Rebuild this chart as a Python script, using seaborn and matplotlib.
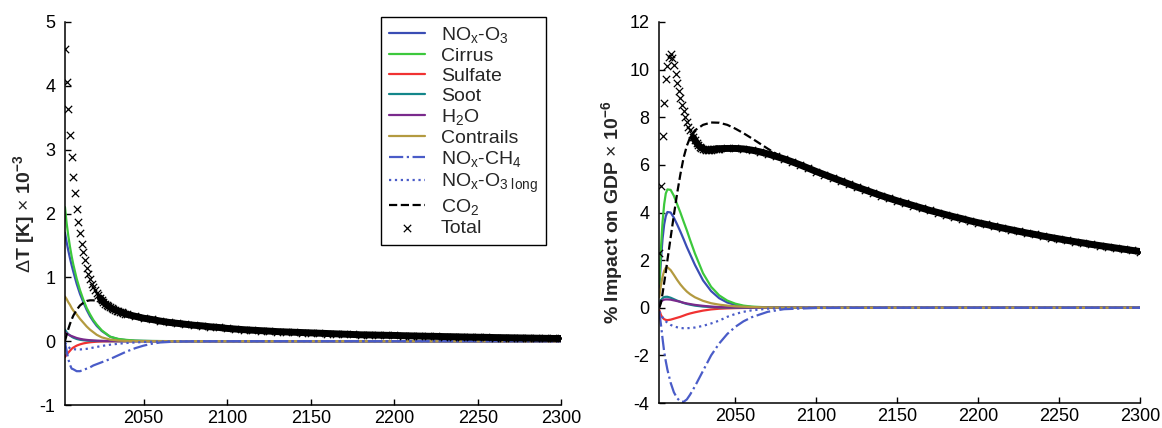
import matplotlib
matplotlib.use("Agg")
import matplotlib.pyplot as plt
import pandas as pd
import seaborn as sns

# ---- data ----
comp_years = [2003, 2004, 2005, 2006, 2007, 2008, 2010, 2012, 2014, 2016, 2018, 2020, 2022,
              2025, 2030, 2035, 2040, 2045, 2050, 2055, 2060, 2070, 2080, 2100, 2150, 2200, 2300]

# left panel: temperature change (K x 1e-3)
dT_nox_o3 = [1.70, 1.55, 1.42, 1.30, 1.19, 1.09, 0.90, 0.74, 0.61, 0.49, 0.39, 0.31, 0.24,
             0.16, 0.07, 0.03, 0.015, 0.007, 0.004, 0.002, 0.001, 0, 0, 0, 0, 0, 0]
dT_cirrus = [2.10, 1.85, 1.65, 1.48, 1.33, 1.20, 0.98, 0.80, 0.65, 0.52, 0.42, 0.33, 0.26,
             0.17, 0.07, 0.035, 0.02, 0.01, 0.006, 0.003, 0.002, 0, 0, 0, 0, 0, 0]
dT_sulfate = [-0.25, -0.21, -0.18, -0.15, -0.12, -0.10, -0.07, -0.05, -0.035, -0.025, -0.017,
              -0.012, -0.008, -0.005, -0.002, -0.001, 0, 0, 0, 0, 0, 0, 0, 0, 0, 0, 0]
dT_soot = [0.18, 0.14, 0.11, 0.09, 0.07, 0.055, 0.035, 0.022, 0.015, 0.01, 0.007, 0.005, 0.003,
           0.002, 0.001, 0, 0, 0, 0, 0, 0, 0, 0, 0, 0, 0, 0]
dT_h2o = [0.14, 0.12, 0.105, 0.09, 0.08, 0.07, 0.05, 0.037, 0.027, 0.02, 0.015, 0.011, 0.008,
          0.005, 0.002, 0.001, 0, 0, 0, 0, 0, 0, 0, 0, 0, 0, 0]
dT_contrails = [0.70, 0.66, 0.61, 0.57, 0.52, 0.48, 0.42, 0.35, 0.29, 0.23, 0.18, 0.14, 0.10,
                0.06, 0.025, 0.01, 0.004, 0.002, 0, 0, 0, 0, 0, 0, 0, 0, 0]
dT_nox_ch4 = [-0.02, -0.15, -0.28, -0.37, -0.43, -0.44, -0.47, -0.47, -0.45, -0.43, -0.41, -0.38,
              -0.36, -0.33, -0.28, -0.22, -0.16, -0.11, -0.07, -0.04, -0.02, -0.005, -0.002, 0, 0, 0, 0]
dT_nox_o3_long = [-0.02, -0.06, -0.09, -0.11, -0.12, -0.125, -0.13, -0.13, -0.125, -0.12, -0.11,
                  -0.10, -0.09, -0.075, -0.055, -0.04, -0.028, -0.02, -0.013, -0.009, -0.006,
                  -0.003, -0.001, 0, 0, 0, 0]
dT_co2 = [0.0, 0.10, 0.19, 0.27, 0.34, 0.40, 0.49, 0.56, 0.60, 0.63, 0.64, 0.64, 0.63,
          0.60, 0.52, 0.46, 0.41, 0.38, 0.35, 0.33, 0.31, 0.275, 0.245, 0.20, 0.13, 0.09, 0.042]

# right panel: impact on GDP (% x 1e-6)
gdp_nox_o3 = [0.85, 2.0, 2.9, 3.5, 3.85, 4.02, 4.0, 3.78, 3.5, 3.2, 2.88, 2.55, 2.25,
              1.8, 1.15, 0.70, 0.40, 0.22, 0.12, 0.06, 0.03, 0.01, 0.002, 0, 0, 0, 0]
gdp_cirrus = [1.0, 2.5, 3.6, 4.35, 4.8, 4.97, 4.95, 4.7, 4.35, 4.0, 3.62, 3.25, 2.85,
              2.28, 1.45, 0.88, 0.52, 0.30, 0.17, 0.09, 0.05, 0.015, 0.004, 0, 0, 0, 0]
gdp_sulfate = [-0.1, -0.3, -0.42, -0.48, -0.51, -0.52, -0.50, -0.46, -0.42, -0.38, -0.33, -0.28,
               -0.24, -0.19, -0.12, -0.07, -0.04, -0.025, -0.015, -0.009, -0.005, -0.001, 0, 0, 0, 0, 0]
gdp_soot = [0.15, 0.32, 0.40, 0.45, 0.46, 0.46, 0.42, 0.36, 0.30, 0.25, 0.20, 0.16, 0.13,
            0.09, 0.05, 0.03, 0.015, 0.009, 0.005, 0.003, 0.002, 0, 0, 0, 0, 0, 0]
gdp_h2o = [0.12, 0.25, 0.31, 0.34, 0.35, 0.35, 0.34, 0.31, 0.28, 0.25, 0.21, 0.18, 0.155,
           0.12, 0.08, 0.05, 0.03, 0.02, 0.01, 0.006, 0.004, 0.001, 0, 0, 0, 0, 0]
gdp_contrails = [0.45, 0.95, 1.3, 1.55, 1.68, 1.70, 1.58, 1.38, 1.17, 0.98, 0.82, 0.68, 0.57,
                 0.44, 0.29, 0.19, 0.13, 0.09, 0.06, 0.045, 0.03, 0.01, 0.003, 0, 0, 0, 0]
gdp_nox_ch4 = [-0.2, -0.7, -1.3, -1.85, -2.25, -2.6, -3.15, -3.55, -3.8, -3.93, -3.95, -3.85,
               -3.65, -3.3, -2.65, -2.0, -1.5, -1.1, -0.8, -0.57, -0.4, -0.17, -0.06, -0.01, 0, 0, 0]
gdp_nox_o3_long = [-0.15, -0.3, -0.4, -0.5, -0.57, -0.63, -0.72, -0.78, -0.82, -0.85, -0.86, -0.86,
                   -0.85, -0.83, -0.76, -0.66, -0.54, -0.38, -0.26, -0.17, -0.11, -0.04, -0.015, 0, 0, 0, 0]
gdp_co2 = [0.0, 0.2, 0.6, 1.05, 1.5, 2.0, 2.95, 3.9, 4.8, 5.6, 6.3, 6.8, 7.15,
           7.45, 7.68, 7.78, 7.77, 7.68, 7.52, 7.33, 7.12, 6.68, 6.27, 5.72, 4.49, 3.57, 2.36]

# totals: yearly up to 2040, then every 5 years
total_years = list(range(2003, 2041)) + list(range(2045, 2301, 5))
dT_total = [4.58, 4.06, 3.63, 3.23, 2.89, 2.57, 2.32, 2.07, 1.86, 1.70, 1.53, 1.39, 1.27, 1.15,
            1.05, 0.97, 0.90, 0.85, 0.80, 0.76, 0.72, 0.68, 0.65, 0.62, 0.59, 0.57, 0.55, 0.53,
            0.515, 0.50, 0.49, 0.48, 0.47, 0.46, 0.45, 0.44, 0.43, 0.42,
            0.39, 0.36, 0.34, 0.315, 0.295, 0.28, 0.265, 0.25, 0.24, 0.225, 0.215, 0.20,
            0.19, 0.18, 0.172, 0.165, 0.158, 0.15, 0.145, 0.14, 0.135, 0.13, 0.125, 0.12,
            0.115, 0.11, 0.105, 0.10, 0.098, 0.095, 0.092, 0.09, 0.086, 0.083, 0.08, 0.077,
            0.075, 0.072, 0.07, 0.067, 0.064, 0.062, 0.06, 0.057, 0.055, 0.053, 0.051, 0.049,
            0.047, 0.045, 0.043, 0.042]
gdp_total = [2.3, 5.1, 7.2, 8.6, 9.6, 10.15, 10.55, 10.65, 10.5, 10.2, 9.8, 9.45, 9.1, 8.8,
             8.5, 8.25, 8.0, 7.8, 7.6, 7.45, 7.3, 7.15, 7.03, 6.93, 6.84, 6.77, 6.72, 6.68,
             6.65, 6.63, 6.63, 6.63, 6.64, 6.65, 6.66, 6.67, 6.68, 6.68,
             6.69, 6.69, 6.67, 6.62, 6.55, 6.46, 6.36, 6.25, 6.13, 6.0, 5.86, 5.72,
             5.59, 5.46, 5.33, 5.20, 5.07, 4.95, 4.83, 4.71, 4.60, 4.49, 4.39, 4.29,
             4.19, 4.09, 4.0, 3.91, 3.82, 3.74, 3.65, 3.57, 3.50, 3.42, 3.35, 3.28,
             3.21, 3.14, 3.08, 3.01, 2.95, 2.89, 2.83, 2.77, 2.72, 2.66, 2.61, 2.56,
             2.51, 2.46, 2.41, 2.36]

series_names = ["NOx-O3", "Cirrus", "Sulfate", "Soot", "H2O", "Contrails",
                "NOx-CH4", "NOx-O3 long", "CO2"]
legend_labels = [r"NO$_\mathrm{x}$-O$_3$", "Cirrus", "Sulfate", "Soot", r"H$_2$O", "Contrails",
                 r"NO$_\mathrm{x}$-CH$_4$", r"NO$_\mathrm{x}$-O$_\mathrm{3\ long}$", r"CO$_2$", "Total"]

left = pd.DataFrame(dict(zip(series_names,
                             [dT_nox_o3, dT_cirrus, dT_sulfate, dT_soot, dT_h2o, dT_contrails,
                              dT_nox_ch4, dT_nox_o3_long, dT_co2])))
left["year"] = comp_years
right = pd.DataFrame(dict(zip(series_names,
                              [gdp_nox_o3, gdp_cirrus, gdp_sulfate, gdp_soot, gdp_h2o, gdp_contrails,
                               gdp_nox_ch4, gdp_nox_o3_long, gdp_co2])))
right["year"] = comp_years
tot = pd.DataFrame({"year": total_years, "left": dT_total, "right": gdp_total})

styles = {
    "NOx-O3": dict(color="#3a4db4", linestyle="-", lw=1.6),
    "Cirrus": dict(color="#3cc83c", linestyle="-", lw=1.6),
    "Sulfate": dict(color="#f03232", linestyle="-", lw=1.6),
    "Soot": dict(color="#13868a", linestyle="-", lw=1.6),
    "H2O": dict(color="#7a2a8c", linestyle="-", lw=1.6),
    "Contrails": dict(color="#b39a40", linestyle="-", lw=1.6),
    "NOx-CH4": dict(color="#4a5cc8", linestyle="-.", lw=1.6),
    "NOx-O3 long": dict(color="#4a5cc8", linestyle=":", lw=1.6),
    "CO2": dict(color="black", linestyle="--", lw=1.6),
}

sns.set_style("ticks")
plt.rcParams["font.family"] = ["Liberation Sans", "DejaVu Sans"]
plt.rcParams["mathtext.fontset"] = "custom"
plt.rcParams["mathtext.rm"] = "Liberation Sans"
plt.rcParams["mathtext.it"] = "Liberation Sans:italic"
plt.rcParams["mathtext.bf"] = "Liberation Sans:bold"
plt.rcParams["axes.unicode_minus"] = False

fig = plt.figure(figsize=(11.62, 4.28), dpi=100)
ax1 = fig.add_axes([0.0559, 0.0537, 0.4273, 0.8949])
ax2 = fig.add_axes([0.5674, 0.0584, 0.4137, 0.8902])

for ax, df, col in [(ax1, left, "left"), (ax2, right, "right")]:
    for name in series_names:
        sns.lineplot(data=df, x="year", y=name, ax=ax, label=name, **styles[name])
    band = tot[tot["year"] >= 2024]
    sns.lineplot(data=band, x="year", y=col, ax=ax, color="black", lw=5,
                 label="_band", zorder=4)
    sns.scatterplot(data=tot, x="year", y=col, ax=ax, marker="x", color="black",
                    s=28, linewidth=0.9, label="Total", zorder=5)
    ax.set_xlim(2003, 2300)
    ax.set_xticks([2050, 2100, 2150, 2200, 2250, 2300])
    ax.set_xlabel("")
    ax.tick_params(direction="in", length=4, width=1, labelsize=13, colors="black")
    ax.tick_params(axis="y", pad=7)
    for s in ["left", "bottom"]:
        ax.spines[s].set_linewidth(1.1)
        ax.spines[s].set_color("black")

ax1.set_ylim(-1, 5)
ax1.set_yticks([-1, 0, 1, 2, 3, 4, 5])
ax1.set_ylabel(r"$\Delta$T [K] $\times$ 10$^\mathbf{-3}$", fontsize=14, fontweight="bold")
ax1.yaxis.set_label_coords(-0.056, 0.5)
ax2.set_ylim(-4, 12)
ax2.set_yticks([-4, -2, 0, 2, 4, 6, 8, 10, 12])
ax2.set_ylabel(r"% Impact on GDP $\times$ 10$^\mathbf{-6}$", fontsize=14, fontweight="bold")
ax2.yaxis.set_label_coords(-0.071, 0.5)

sns.despine(fig=fig, top=True, right=True)

handles, labels = ax1.get_legend_handles_labels()
keep = [h for h, l in zip(handles, labels) if not l.startswith("_")]
leg = ax1.legend(keep, legend_labels, loc="upper left", bbox_to_anchor=(0.636, 1.013),
                 frameon=True, fancybox=False, edgecolor="black", framealpha=1,
                 fontsize=14, handlelength=1.9, labelspacing=0.12, borderpad=0.4,
                 handletextpad=0.8, borderaxespad=0)
leg.get_frame().set_linewidth(1.0)
ax2.get_legend().remove()

fig.savefig("out.png", dpi=100)
